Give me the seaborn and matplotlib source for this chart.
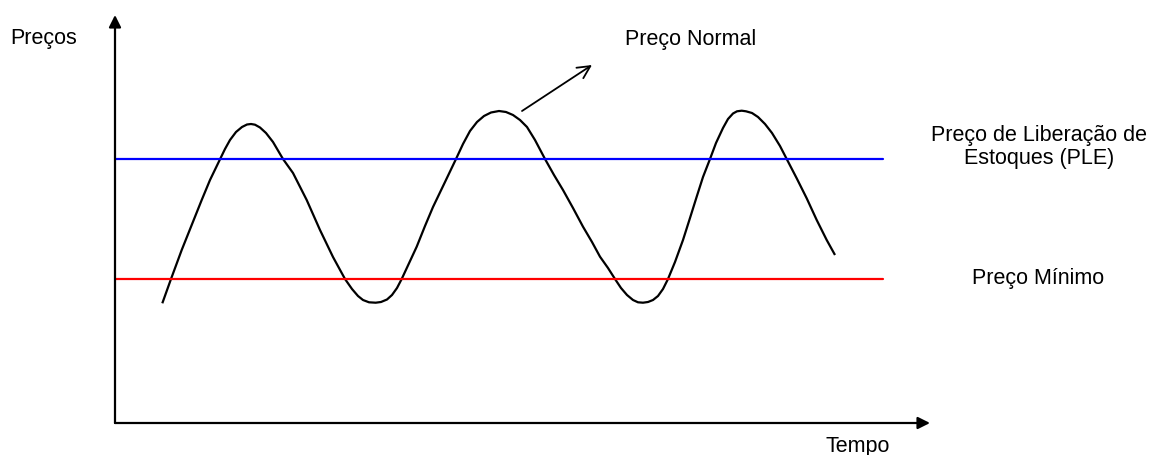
import matplotlib
matplotlib.use("Agg")
import matplotlib.pyplot as plt
from matplotlib.patches import ArrowStyle
import pandas as pd
import seaborn as sns

# Normal price path over time (arbitrary units)
tempo = [4.73, 5.60, 6.67, 7.67, 8.67, 9.50, 10.50, 11.00, 11.50, 12.10, 12.70,
         13.20, 13.60, 14.00, 14.50, 15.10, 15.80, 16.80, 17.80, 19.17, 20.50,
         21.80, 23.00, 23.70, 24.30, 24.80, 25.40, 26.07, 26.60, 27.20, 27.70,
         28.20, 28.67, 30.17, 31.00, 31.80, 33.00, 34.10, 34.80, 35.50, 36.20,
         36.90, 37.60, 38.40, 39.10, 39.80, 40.50, 41.20, 42.00, 43.00, 43.90,
         44.80, 45.80, 46.80, 47.70, 48.50, 49.30, 50.00, 50.60, 51.20, 51.80,
         52.30, 52.80, 53.30, 53.80, 54.30, 54.80, 55.30, 56.00, 56.80, 57.50,
         58.17, 58.80, 59.50, 60.10, 60.80, 61.30, 61.80, 62.20, 62.67, 63.10,
         63.70, 64.30, 65.00, 65.70, 66.50, 67.17, 68.17, 69.17, 70.17, 71.17,
         72.00]
preco_normal = [11.97, 14.40, 17.30, 19.80, 22.30, 24.30, 26.37, 27.40, 28.30,
                29.10, 29.60, 29.85, 29.90, 29.83, 29.55, 29.00, 28.10, 26.40,
                25.00, 22.30, 19.30, 16.60, 14.40, 13.40, 12.70, 12.30, 12.07,
                12.03, 12.10, 12.35, 12.80, 13.50, 14.40, 17.63, 19.70, 21.60,
                24.10, 26.40, 27.90, 29.20, 30.10, 30.70, 31.05, 31.20, 31.10,
                30.80, 30.30, 29.60, 28.30, 26.40, 24.80, 23.30, 21.50, 19.63,
                18.10, 16.63, 15.50, 14.40, 13.50, 12.80, 12.30, 12.07, 12.03,
                12.10, 12.30, 12.70, 13.40, 14.40, 16.10, 18.30, 20.50, 22.63,
                24.60, 26.40, 28.00, 29.50, 30.40, 30.95, 31.17, 31.23, 31.17,
                31.00, 30.60, 29.90, 29.00, 27.70, 26.40, 24.47, 22.47, 20.30,
                18.30, 16.80]

# Reference price levels
preco_liberacao = 26.4
preco_minimo = 14.4
tempo_limites = [0.0, 76.8]

rotulo_eixo_y = "Preços"
rotulo_eixo_x = "Tempo"
rotulo_normal = "Preço Normal"
rotulo_ple = "Preço de Liberação de\nEstoques (PLE)"
rotulo_minimo = "Preço Mínimo"

sns.set_theme(style="white")
plt.rcParams["font.family"] = ["Liberation Sans", "DejaVu Sans"]

W, H = 1149, 455
fig = plt.figure(figsize=(W / 100, H / 100), dpi=100)
fig.patch.set_facecolor("white")

x0, y0, x1, y1 = 115, 423, 930, 15
ax = fig.add_axes([x0 / W, 1 - y0 / H, (x1 - x0) / W, (y0 - y1) / H])
ax.set_facecolor("white")
ax.set_xlim(0, 81.5)
ax.set_ylim(0, 40.8)
for s in ax.spines.values():
    s.set_visible(False)
ax.set_xticks([])
ax.set_yticks([])

df_curve = pd.DataFrame({"tempo": tempo, "preco": preco_normal})
sns.lineplot(data=df_curve, x="tempo", y="preco", sort=False, ax=ax,
             color="black", linewidth=1.6, solid_joinstyle="round",
             solid_capstyle="butt")

df_ple = pd.DataFrame({"tempo": tempo_limites,
                       "preco": [preco_liberacao] * 2})
df_min = pd.DataFrame({"tempo": tempo_limites,
                       "preco": [preco_minimo] * 2})
sns.lineplot(data=df_ple, x="tempo", y="preco", ax=ax, color="#0000ff",
             linewidth=1.6)
sns.lineplot(data=df_min, x="tempo", y="preco", ax=ax, color="#ff0000",
             linewidth=1.6)
ax.set_xlabel("")
ax.set_ylabel("")

# Axis arrows
head = ArrowStyle("-|>", head_length=0.72, head_width=0.36)
for end in [(1, 0), (0, 1)]:
    ax.annotate("", xy=end, xytext=(0, 0), xycoords="axes fraction",
                textcoords="axes fraction",
                arrowprops=dict(arrowstyle=head, mutation_scale=10,
                                color="black", lw=1.6, shrinkA=0, shrinkB=0))

# Pointer to the normal price label
ax.annotate("", xy=(47.7, 35.8), xytext=(40.7, 31.2),
            arrowprops=dict(arrowstyle=ArrowStyle("->", head_length=0.9,
                                                  head_width=0.45),
                            mutation_scale=10, color="black", lw=1.3,
                            shrinkA=0, shrinkB=0))

fs = 15.5
def ftxt(px, py, s, ha="left", **kw):
    fig.text(px / W, 1 - py / H, s, ha=ha, va="baseline", fontsize=fs,
             color="black", **kw)

ftxt(10, 44, rotulo_eixo_y)
ftxt(625, 45, rotulo_normal)
ftxt(1039, 164, rotulo_ple, ha="center", linespacing=1.1)
ftxt(1038, 284, rotulo_minimo, ha="center")
ftxt(826, 452, rotulo_eixo_x)

fig.savefig("out.png", dpi=100, facecolor="white")
